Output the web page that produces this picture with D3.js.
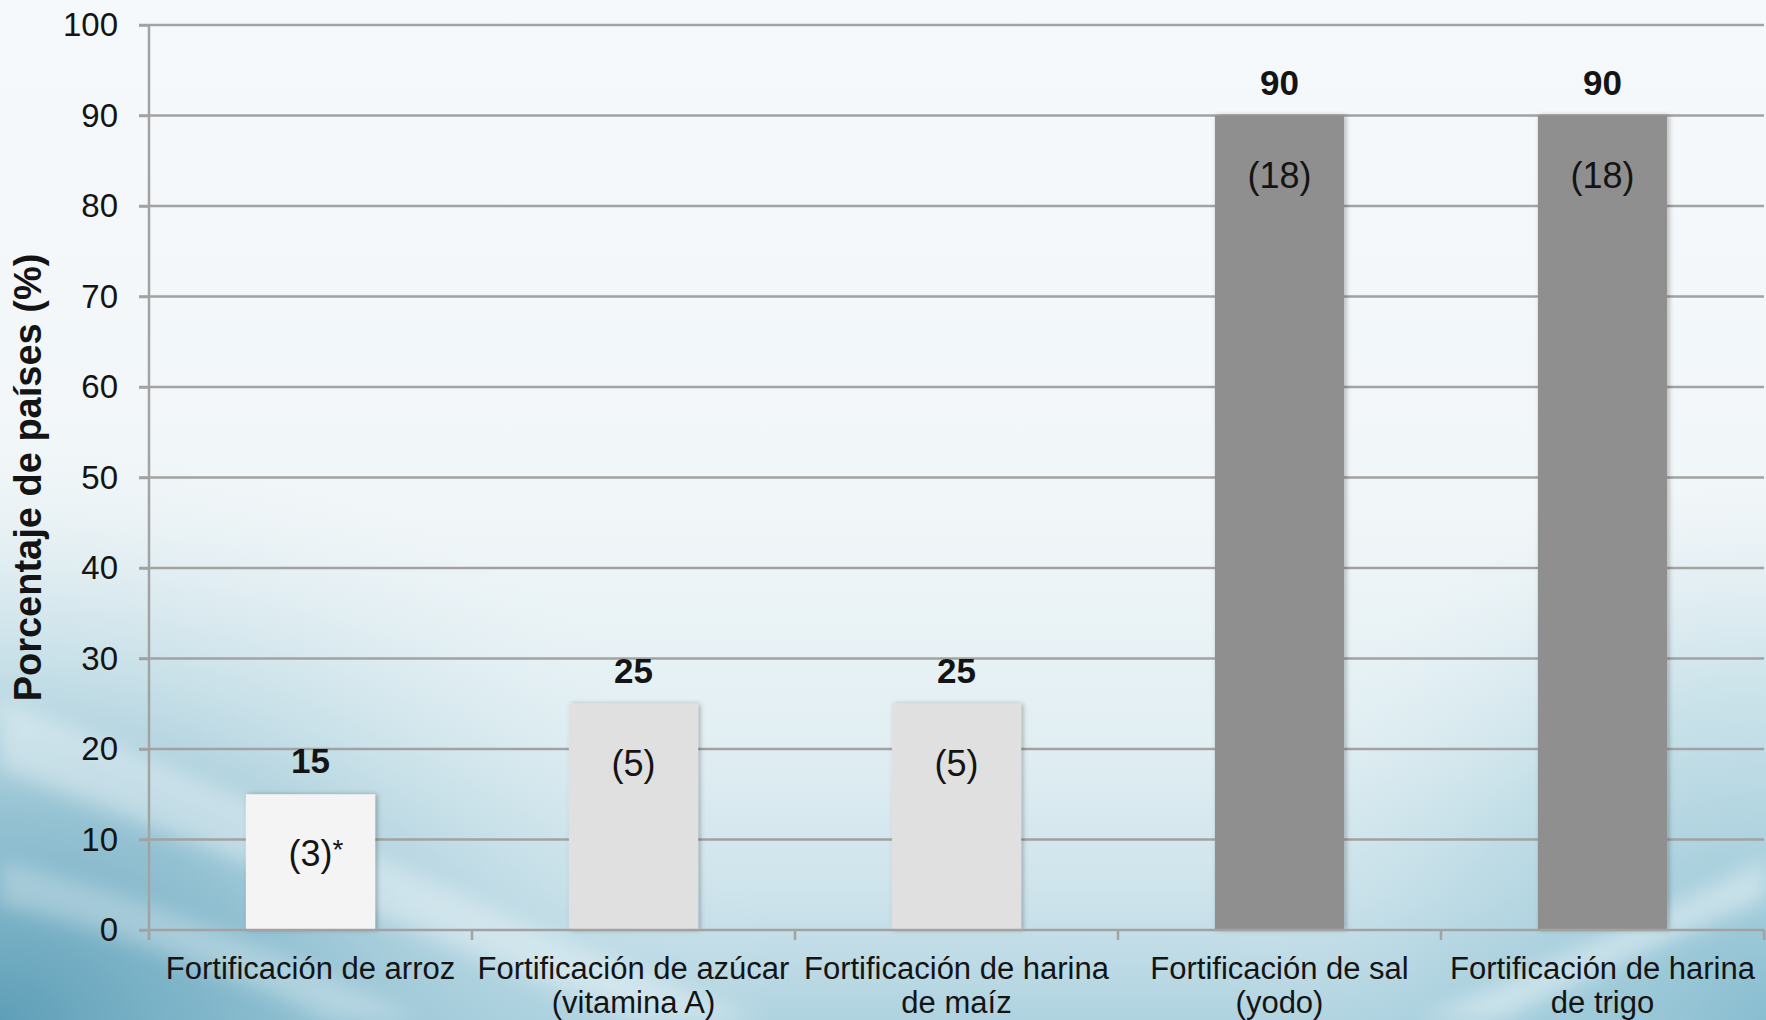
<!DOCTYPE html>
<html lang="es">
<head>
<meta charset="utf-8">
<title>Porcentaje de países con fortificación de alimentos</title>
<script src="https://cdn.jsdelivr.net/npm/d3@7/dist/d3.min.js"></script>
<style>
  html, body { margin: 0; padding: 0; background: #f6f9fb; }
  svg { display: block; }
  text { font-family: "Liberation Sans", Arial, sans-serif; fill: #141414; }
</style>
</head>
<body>
<svg id="chart" width="1766" height="1020"></svg>
<script>
// ---- data ----
const categories = [
  ["Fortificación de arroz"],
  ["Fortificación de azúcar", "(vitamina A)"],
  ["Fortificación de harina", "de maíz"],
  ["Fortificación de sal", "(yodo)"],
  ["Fortificación de harina", "de trigo"]
];
const percentages = [15, 25, 25, 90, 90];
const countryCounts = [3, 5, 5, 18, 18];
const footnoteMarks = ["*", "", "", "", ""];
const yTicks = [0, 10, 20, 30, 40, 50, 60, 70, 80, 90, 100];
const yTitle = "Porcentaje de países (%)";

// ---- styling ----
const barColors = ["#f4f4f4", "#e0e0e0", "#e0e0e0", "#8f8f8f", "#8f8f8f"];
const gridColor = "#a2a2a2";

const W = 1766, H = 1020;
const plot = { left: 149, right: 1764, top: 25, bottom: 930 };

const svg = d3.select("#chart");
const defs = svg.append("defs");

// background gradients
const bgLin = defs.append("linearGradient").attr("id", "bgLin")
  .attr("x1", 0).attr("y1", 0).attr("x2", 0).attr("y2", 1);
[[0, "#f6f9fc"], [0.5, "#f1f6f8"], [0.72, "#e2eff3"], [0.88, "#cde3eb"], [1, "#afd3e0"]]
  .forEach(([o, c]) => bgLin.append("stop").attr("offset", o).attr("stop-color", c));

const bgRad = defs.append("radialGradient").attr("id", "bgRad")
  .attr("gradientUnits", "userSpaceOnUse")
  .attr("cx", 0).attr("cy", H).attr("r", 780)
  .attr("gradientTransform", `translate(0,${H}) scale(1,0.75) translate(0,${-H})`);
[[0, "#5a9cb5", 0.95], [0.35, "#7bb3c8", 0.72], [0.7, "#a9cfdc", 0.32], [1, "#d8eaf0", 0]]
  .forEach(([o, c, a]) => bgRad.append("stop").attr("offset", o).attr("stop-color", c).attr("stop-opacity", a));

const bgRad2 = defs.append("radialGradient").attr("id", "bgRad2")
  .attr("gradientUnits", "userSpaceOnUse")
  .attr("cx", W).attr("cy", H).attr("r", 540);
[[0, "#7fb8cc", 0.8], [0.6, "#a2cddb", 0.4], [1, "#cfe4ec", 0]]
  .forEach(([o, c, a]) => bgRad2.append("stop").attr("offset", o).attr("stop-color", c).attr("stop-opacity", a));

const soft = defs.append("filter").attr("id", "soft")
  .attr("x", "-20%").attr("y", "-20%").attr("width", "140%").attr("height", "140%");
soft.append("feGaussianBlur").attr("stdDeviation", 10);

const barShadow = defs.append("filter").attr("id", "barShadow")
  .attr("x", "-10%").attr("y", "-10%").attr("width", "120%").attr("height", "120%");
barShadow.append("feDropShadow").attr("dx", 2).attr("dy", 0)
  .attr("stdDeviation", 2.5).attr("flood-color", "#000").attr("flood-opacity", 0.28);

// ---- background ----
const bg = svg.append("g");
bg.append("rect").attr("width", W).attr("height", H).attr("fill", "url(#bgLin)");
bg.append("rect").attr("width", W).attr("height", H).attr("fill", "url(#bgRad)");
bg.append("rect").attr("width", W).attr("height", H).attr("fill", "url(#bgRad2)");
// sweeping light ribbons across the lower part
bg.append("path")
  .attr("d", `M0,700 C250,790 520,930 760,${H} L640,${H} C430,940 200,840 0,770 Z`)
  .attr("fill", "#ffffff").attr("opacity", 0.35).attr("filter", "url(#soft)");
bg.append("path")
  .attr("d", `M0,860 C160,900 300,960 420,${H} L330,${H} C220,970 110,930 0,905 Z`)
  .attr("fill", "#ffffff").attr("opacity", 0.28).attr("filter", "url(#soft)");
bg.append("path")
  .attr("d", `M1420,${H} C1560,960 1680,900 ${W},860 L${W},900 C1690,930 1580,980 1500,${H} Z`)
  .attr("fill", "#ffffff").attr("opacity", 0.4).attr("filter", "url(#soft)");

// ---- scales ----
const keys = categories.map((_, i) => i);
const x = d3.scaleBand().domain(keys)
  .range([plot.left, plot.right]).paddingInner(0.6).paddingOuter(0.3);
const y = d3.scaleLinear().domain([0, 100]).range([plot.bottom, plot.top]);
const boundaries = d3.range(keys.length + 1).map(i => plot.left + i * (plot.right - plot.left) / keys.length);

// ---- gridlines ----
svg.append("g").selectAll("line").data(yTicks.filter(t => t > 0)).join("line")
  .attr("x1", plot.left - 10).attr("x2", plot.right)
  .attr("y1", d => y(d)).attr("y2", d => y(d))
  .attr("stroke", gridColor).attr("stroke-width", 2.5);

// ---- y axis ----
const yAxis = svg.append("g").attr("transform", `translate(${plot.left},0)`)
  .call(d3.axisLeft(y).tickValues(yTicks).tickSize(10).tickPadding(21).tickSizeOuter(0));
yAxis.select(".domain").remove();
yAxis.selectAll(".tick line").attr("stroke", gridColor).attr("stroke-width", 2.5);
yAxis.selectAll(".tick text")
  .style("font-family", '"Liberation Sans", Arial, sans-serif')
  .style("font-size", "33px").attr("fill", "#141414");
svg.append("line")
  .attr("x1", plot.left).attr("x2", plot.left)
  .attr("y1", plot.top).attr("y2", plot.bottom + 10)
  .attr("stroke", gridColor).attr("stroke-width", 2.5);

// ---- bars ----
svg.append("g").selectAll("rect").data(percentages).join("rect")
  .attr("x", (d, i) => x(i)).attr("width", x.bandwidth())
  .attr("y", d => y(d)).attr("height", d => y(0) - y(d))
  .attr("fill", (d, i) => barColors[i])
  .attr("filter", "url(#barShadow)");

// ---- x axis ----
svg.append("line")
  .attr("x1", plot.left - 10).attr("x2", plot.right)
  .attr("y1", y(0)).attr("y2", y(0))
  .attr("stroke", gridColor).attr("stroke-width", 2.5);
svg.append("g").selectAll("line").data(boundaries).join("line")
  .attr("x1", d => d).attr("x2", d => d)
  .attr("y1", y(0)).attr("y2", y(0) + 10)
  .attr("stroke", gridColor).attr("stroke-width", 2.5);

// category names, one text element per line
const catGroups = svg.append("g").selectAll("g").data(categories).join("g")
  .attr("transform", (d, i) => `translate(${x(i) + x.bandwidth() / 2},979)`);
catGroups.selectAll("text").data(d => d).join("text")
  .attr("text-anchor", "middle")
  .attr("y", (d, j) => j * 34)
  .style("font-size", "31px")
  .text(d => d);

// ---- value labels ----
svg.append("g").selectAll("text").data(percentages).join("text")
  .attr("x", (d, i) => x(i) + x.bandwidth() / 2)
  .attr("y", d => y(d) - 21)
  .attr("text-anchor", "middle")
  .style("font-size", "35px").style("font-weight", "bold")
  .text(d => d);

// ---- country count labels inside bars ----
const counts = svg.append("g").selectAll("text").data(countryCounts).join("text")
  .attr("x", (d, i) => x(i) + x.bandwidth() / 2)
  .attr("y", (d, i) => y(percentages[i]) + 72)
  .style("font-size", "36px");
counts.each(function (d, i) {
  const t = d3.select(this);
  t.append("tspan").text(`(${d})`);
  if (footnoteMarks[i]) {
    t.append("tspan").attr("dy", -7).style("font-size", "28px").text(footnoteMarks[i]);
  }
  // keep the parenthesised number centred on the bar
  const main = t.select("tspan").node().getComputedTextLength();
  t.attr("x", +t.attr("x") - main / 2);
});

// ---- y title ----
svg.append("text")
  .attr("transform", `translate(41,${(plot.top + plot.bottom) / 2}) rotate(-90)`)
  .attr("text-anchor", "middle")
  .style("font-size", "38px").style("font-weight", "bold")
  .text(yTitle);
</script>
</body>
</html>
